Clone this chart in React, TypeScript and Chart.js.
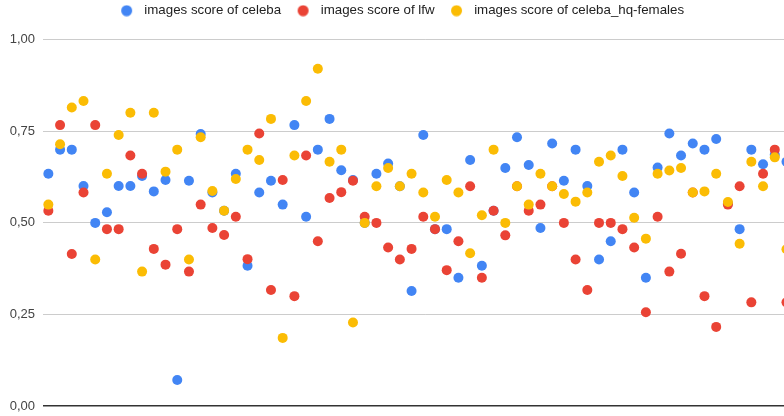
import React, { useEffect, useRef } from "react";
import { Chart, registerables } from "chart.js";

Chart.register(...registerables);

const categories = [
  "1", "2", "3", "4", "5", "6", "7", "8", "9", "10",
  "11", "12", "13", "14", "15", "16", "17", "18", "19", "20",
  "21", "22", "23", "24", "25", "26", "27", "28", "29", "30",
  "31", "32", "33", "34", "35", "36", "37", "38", "39", "40",
  "41", "42", "43", "44", "45", "46", "47", "48", "49", "50",
  "51", "52", "53", "54", "55", "56", "57", "58", "59", "60",
  "61", "62", "63", "64",
];

const seriesNames = [
  "images score of celeba",
  "images score of lfw",
  "images score of celeba_hq-females",
];

const celeba = [
  0.634, 0.7, 0.7, 0.601, 0.5, 0.529, 0.601, 0.601, 0.628, 0.586,
  0.617, 0.071, 0.615, 0.743, 0.583, 0.533, 0.634, 0.383, 0.583, 0.615,
  0.55, 0.767, 0.517, 0.7, 0.784, 0.644, 0.617, 0.5, 0.634, 0.662,
  0.6, 0.314, 0.74, 0.483, 0.483, 0.35, 0.672, 0.383, 0.533, 0.65,
  0.734, 0.658, 0.486, 0.717, 0.615, 0.7, 0.601, 0.4, 0.45, 0.7,
  0.583, 0.35, 0.651, 0.744, 0.684, 0.717, 0.7, 0.729, 0.553, 0.483,
  0.7, 0.66, 0.686, 0.667,
];

const lfw = [
  0.533, 0.767, 0.415, 0.583, 0.767, 0.483, 0.483, 0.684, 0.634, 0.429,
  0.386, 0.483, 0.367, 0.55, 0.486, 0.467, 0.517, 0.401, 0.744, 0.317,
  0.617, 0.3, 0.684, 0.45, 0.568, 0.584, 0.615, 0.517, 0.5, 0.433,
  0.4, 0.429, 0.517, 0.483, 0.371, 0.45, 0.6, 0.35, 0.533, 0.466,
  0.6, 0.533, 0.55, 0.6, 0.5, 0.4, 0.317, 0.5, 0.5, 0.483,
  0.433, 0.256, 0.517, 0.367, 0.416, 0.583, 0.3, 0.216, 0.55, 0.6,
  0.283, 0.634, 0.7, 0.283,
];

const celebaHq = [
  0.55, 0.715, 0.815, 0.833, 0.4, 0.634, 0.74, 0.801, 0.367, 0.801,
  0.64, 0.7, 0.4, 0.734, 0.587, 0.533, 0.62, 0.7, 0.672, 0.784,
  0.186, 0.684, 0.833, 0.921, 0.667, 0.7, 0.228, 0.5, 0.6, 0.65,
  0.6, 0.634, 0.583, 0.517, 0.617, 0.583, 0.417, 0.521, 0.7, 0.5,
  0.6, 0.55, 0.634, 0.6, 0.579, 0.558, 0.583, 0.667, 0.684, 0.628,
  0.514, 0.457, 0.634, 0.643, 0.65, 0.583, 0.586, 0.634, 0.557, 0.443,
  0.667, 0.6, 0.679, 0.428,
];

const colors = ["#4285F4", "#EA4335", "#FBBC04"];

const FONT = "'Liberation Sans', Arial, sans-serif";

function makeMarker(color: string): HTMLCanvasElement {
  const c = document.createElement("canvas");
  c.width = 22;
  c.height = 12;
  const g = c.getContext("2d");
  if (g) {
    g.fillStyle = color;
    g.beginPath();
    g.arc(6.5, 6, 5.5, 0, Math.PI * 2);
    g.fill();
  }
  return c;
}

export default function App() {
  const canvasRef = useRef<HTMLCanvasElement | null>(null);

  useEffect(() => {
    if (!canvasRef.current) return;
    const allSeries = [celeba, lfw, celebaHq];
    const markers = colors.map((c) => makeMarker(c));
    const chart = new Chart(canvasRef.current, {
      type: "scatter",
      data: {
        datasets: allSeries.map((values, i) => ({
          label: seriesNames[i],
          data: values.map((v, k) => ({ x: categories.indexOf(categories[k]), y: v })),
          backgroundColor: colors[i],
          borderColor: colors[i],
          borderWidth: 0,
          pointRadius: 5,
          pointHoverRadius: 5,
          showLine: false,
          order: 2 - i,
        })),
      },
      options: {
        animation: false,
        responsive: false,
        maintainAspectRatio: false,
        layout: { padding: { left: 0, right: 7.25, top: -16, bottom: 4 } },
        plugins: {
          tooltip: { enabled: false },
          legend: {
            position: "top",
            align: "center",
            labels: {
              usePointStyle: true,
              boxWidth: 13,
              boxHeight: 13,
              padding: 20,
              color: "#222222",
              font: { family: FONT, size: 13.3 },
              sort: (a: any, b: any) => a.datasetIndex - b.datasetIndex,
              generateLabels: (ch: any) => {
                const items = Chart.defaults.plugins.legend.labels.generateLabels(ch);
                return items.map((it: any) => ({
                  ...it,
                  pointStyle: markers[it.datasetIndex],
                  lineWidth: 0,
                }));
              },
            },
          },
        },
        scales: {
          x: {
            type: "linear",
            min: -0.5,
            max: 64.9,
            display: true,
            grid: { display: false, drawTicks: false },
            border: { display: false },
            ticks: { display: false },
            afterFit: (scale: any) => {
              scale.height = 6;
            },
          },
          xTop: {
            type: "linear",
            axis: "x",
            position: "top",
            min: -0.5,
            max: 64.9,
            display: true,
            grid: { display: false, drawTicks: false },
            border: { display: false },
            ticks: { display: false },
            afterFit: (scale: any) => {
              scale.height = 12.5;
            },
          },
          y: {
            type: "linear",
            min: 0,
            max: 1,
            afterFit: (scale: any) => {
              scale.width = 42.5;
            },
            ticks: {
              stepSize: 0.25,
              padding: 7.5,
              color: "#444444",
              font: { family: FONT, size: 13, lineHeight: 0.3 },
              callback: (v: any) => Number(v).toFixed(2).replace(".", ","),
            },
            grid: {
              drawTicks: false,
              color: (ctx: any) => (ctx.tick && ctx.tick.value === 0 ? "#333333" : "#cccccc"),
              lineWidth: (ctx: any) => (ctx.tick && ctx.tick.value === 0 ? 1.5 : 1),
            },
            border: { display: false },
          },
        },
      },
    } as any);
    return () => chart.destroy();
  }, []);

  return (
    <div
      style={{
        position: "fixed",
        left: 0,
        top: 0,
        width: 784,
        height: 416,
        overflow: "hidden",
        background: "#ffffff",
      }}
    >
      <canvas ref={canvasRef} width={816} height={416} style={{ display: "block" }} />
    </div>
  );
}
